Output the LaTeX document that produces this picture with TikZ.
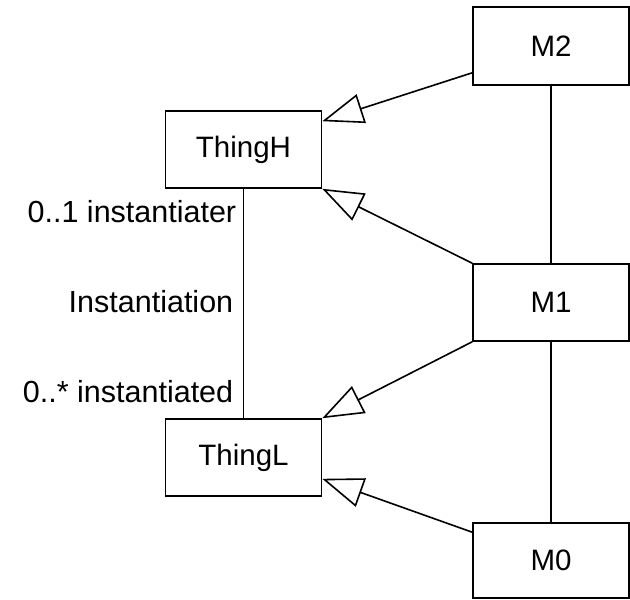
\documentclass[tikz,border=0pt]{standalone}
\usepackage{fontspec}
\setmainfont{Liberation Sans}
\usetikzlibrary{arrows.meta,calc}
\begin{document}
\begin{tikzpicture}[x=1pt,y=-1pt,
  line width=1.6pt,
  every node/.style={font=\fontsize{29.5}{34}\selectfont},
  box/.style={draw, inner sep=0pt, minimum width=156pt, minimum height=77pt},
  role/.style={anchor=east, inner sep=0pt, font=\fontsize{30.5}{35}\selectfont},
  gen/.style={-{Triangle[open,length=41pt,width=30pt]}}
]
\useasboundingbox (0,0) rectangle (630,600);

% classes
\node[box] (ThingH) at (243.5,149.5) {ThingH};
\node[box] (ThingL) at (243.5,457.5) {ThingL};
% meta levels
\node[box, minimum height=78pt] (M2) at (551,46) {M2};
\node[box] (M1) at (551,302.5) {M1};
\node[box, minimum height=75pt] (M0) at (551,560.5) {M0};

% level chain
\draw (M2.south) -- (M1.north);
\draw (M1.south) -- (M0.north);

% generalisations
\draw[gen] ($(M2.south west)+(0,-13)$) -- ($(ThingH.north east)+(0,11)$);
\draw[gen] (M1.north west) -- (ThingH.south east);
\draw[gen] (M1.south west) -- (ThingL.north east);
\draw[gen] ($(M0.north west)+(0,10)$) -- ($(ThingL.south east)+(0,-18)$);

% instantiation association
\draw (ThingH.south) -- (ThingL.north);
\node[role] (upper) at (237,212) {0..1 instantiater};
\node[role] (assoc) at (234,302) {Instantiation};
\node[role] (lower) at (234,392) {0..* instantiated};
\end{tikzpicture}
\end{document}
